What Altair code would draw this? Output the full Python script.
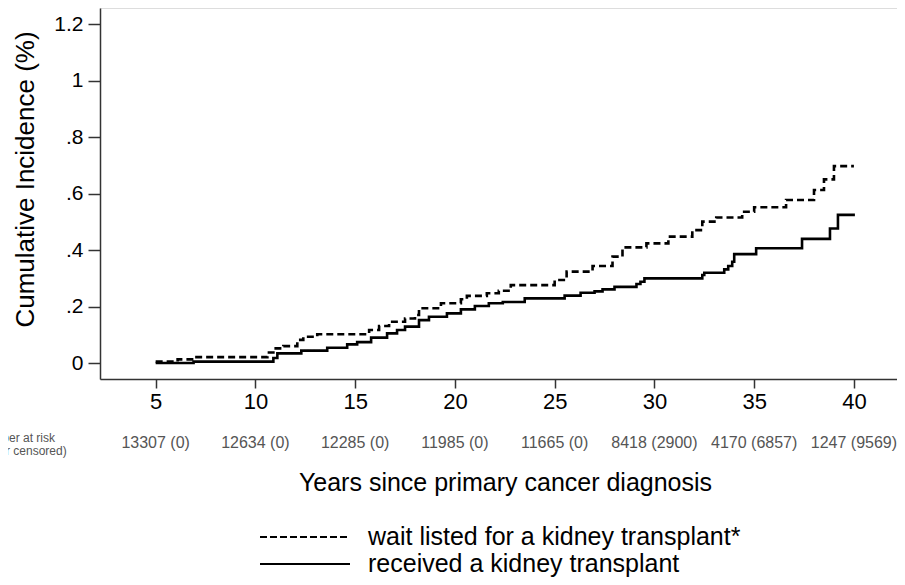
import altair as alt
import pandas as pd

# ---- data ----
series_names = ["wait listed for a kidney transplant*", "received a kidney transplant"]

dashed_t = [5.0, 6.1, 6.9, 10.6, 10.9, 11.4, 12.1, 12.4, 13.1, 15.7,
            16.2, 16.7, 17.5, 18.0, 18.2, 19.3, 20.3, 20.6, 21.6, 22.2,
            22.8, 25.0, 25.6, 26.9, 27.9, 28.4, 29.6, 30.7, 31.9, 32.4,
            33.1, 34.4, 35.0, 36.6, 38.0, 38.5, 39.0, 40.0]
dashed_v = [0.005, 0.013, 0.021, 0.037, 0.052, 0.060, 0.082, 0.093, 0.102, 0.117,
            0.131, 0.146, 0.158, 0.170, 0.194, 0.212, 0.226, 0.238, 0.247, 0.256,
            0.276, 0.294, 0.324, 0.344, 0.377, 0.410, 0.424, 0.448, 0.471, 0.501,
            0.516, 0.536, 0.552, 0.578, 0.613, 0.651, 0.698, 0.698]

solid_t = [5.0, 6.9, 10.9, 11.1, 12.3, 13.6, 14.6, 15.1, 15.8, 16.6,
           17.1, 17.5, 18.2, 18.7, 19.6, 20.3, 21.0, 21.7, 22.4, 23.5,
           25.5, 26.3, 27.0, 27.4, 28.0, 29.1, 29.3, 29.5, 32.4, 32.5,
           33.5, 33.7, 33.9, 34.0, 35.1, 37.4, 38.8, 39.2, 40.05]
solid_v = [0.0, 0.005, 0.018, 0.034, 0.044, 0.054, 0.066, 0.074, 0.090, 0.105,
           0.117, 0.129, 0.152, 0.164, 0.176, 0.190, 0.202, 0.212, 0.216, 0.229,
           0.239, 0.249, 0.254, 0.261, 0.270, 0.280, 0.288, 0.300, 0.312, 0.320,
           0.332, 0.344, 0.359, 0.386, 0.407, 0.440, 0.477, 0.525, 0.525]

risk_years = [5, 10, 15, 20, 25, 30, 35, 40]
risk_labels = ["13307 (0)", "12634 (0)", "12285 (0)", "11985 (0)", "11665 (0)",
               "8418 (2900)", "4170 (6857)", "1247 (9569)"]
risk_header = "Number at risk\n(number censored)"

x_ticks = [5, 10, 15, 20, 25, 30, 35, 40]
y_ticks = [0, 0.2, 0.4, 0.6, 0.8, 1.0, 1.2]

x_title = "Years since primary cancer diagnosis"
y_title = "Cumulative Incidence (%)"

FONT = "Liberation Sans, Arial, sans-serif"

curves = pd.concat([
    pd.DataFrame({"t": dashed_t, "v": dashed_v, "series": series_names[0]}),
    pd.DataFrame({"t": solid_t, "v": solid_v, "series": series_names[1]}),
])
risk = pd.DataFrame({"t": risk_years, "label": risk_labels})

x_scale = alt.Scale(domain=[2.21, 42.16], nice=False, zero=False)
y_scale = alt.Scale(domain=[-0.0567, 1.2584], nice=False, zero=False)

lines = alt.Chart(curves).mark_line(interpolate="step-after", strokeWidth=2.6, color="black").encode(
    x=alt.X("t:Q", scale=x_scale, axis=alt.Axis(
        values=x_ticks, title=x_title, grid=False,
        labelFontSize=22, labelFont=FONT, labelColor="black", labelPadding=3,
        tickSize=9, tickColor="#333", tickWidth=1.5,
        domainColor="#333", domainWidth=1.5,
        titleFontSize=25, titleFont=FONT, titleFontWeight="normal", titleColor="black",
        titleX=405, titleY=103, titleBaseline="middle", titleAlign="center")),
    y=alt.Y("v:Q", scale=y_scale, axis=alt.Axis(
        values=y_ticks, title=y_title, grid=False,
        labelExpr="datum.value == 0 ? '0' : (datum.value == 1 ? '1' : replace(format(datum.value, '.1f'), '0.', '.'))",
        labelFontSize=21, labelFont=FONT, labelColor="black", labelPadding=5,
        tickSize=12, tickColor="#333", tickWidth=1.5,
        domainColor="#333", domainWidth=1.5,
        titleFontSize=26, titleFont=FONT, titleFontWeight="normal", titleColor="black",
        titleX=-75, titleY=171, titleBaseline="middle", titleAlign="center", titleAngle=-90)),
    strokeDash=alt.StrokeDash("series:N", scale=alt.Scale(domain=series_names, range=[[7, 4], [1, 0]]), legend=None),
    detail="series:N",
)

risk_text = alt.Chart(risk).mark_text(fontSize=16, font=FONT, color="#555", baseline="middle", align="center").encode(
    x=alt.X("t:Q", scale=x_scale),
    y=alt.value(435),
    text="label:N",
)

header_text = alt.Chart(pd.DataFrame({"h": [risk_header]})).mark_text(
    fontSize=12, font=FONT, color="#555", align="center", baseline="top",
    lineBreak="\n", lineHeight=13).encode(
    x=alt.value(-84), y=alt.value(425), text="h:N")

leg1_line = alt.Chart(pd.DataFrame({"s": [series_names[0]]})).mark_rule(
    color="black", strokeWidth=2, strokeDash=[7, 3]).encode(
    x=alt.value(160), x2=alt.value(250), y=alt.value(529))
leg2_line = alt.Chart(pd.DataFrame({"s": [series_names[1]]})).mark_rule(
    color="black", strokeWidth=2).encode(
    x=alt.value(160), x2=alt.value(250), y=alt.value(556))
leg1_text = alt.Chart(pd.DataFrame({"s": [series_names[0]]})).mark_text(
    fontSize=25, font=FONT, color="black", align="left", baseline="middle").encode(
    x=alt.value(268), y=alt.value(529), text="s:N")
leg2_text = alt.Chart(pd.DataFrame({"s": [series_names[1]]})).mark_text(
    fontSize=25, font=FONT, color="black", align="left", baseline="middle").encode(
    x=alt.value(268), y=alt.value(556), text="s:N")

chart = alt.layer(
    lines, risk_text, header_text, leg1_line, leg2_line, leg1_text, leg2_text
).properties(
    width=797, height=371,
    autosize=alt.AutoSizeParams(type="none"),
    padding={"left": 92, "top": 0, "right": 0, "bottom": 198},
).configure_view(stroke=None).configure(background="white")

chart.save("out.html", embed_options={"renderer": "svg", "actions": False})
